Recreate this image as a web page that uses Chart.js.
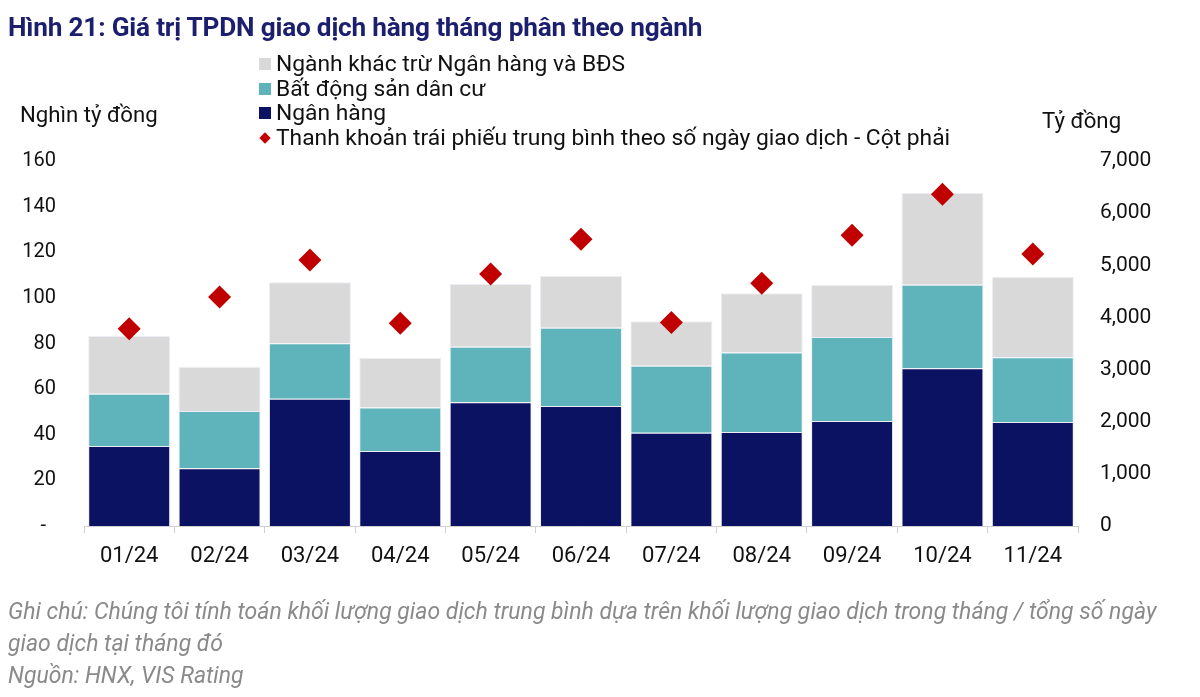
<!DOCTYPE html>
<html>
<head>
<meta charset="utf-8">
<script src="https://cdn.jsdelivr.net/npm/chart.js@4/dist/chart.umd.min.js"></script>
<style>
  html, body { margin: 0; padding: 0; background: #fff; }
  body { width: 1200px; height: 697px; position: relative; overflow: hidden; font-family: Roboto, "Noto Sans", sans-serif; }
  #title { position: absolute; left: 8px; top: 12px; font-size: 26.2px; font-weight: bold; color: #1b1f6e; white-space: nowrap; letter-spacing: -0.2px; }
  #legend { position: absolute; left: 259px; top: 52px; font-size: 22.8px; color: #111; line-height: 24.5px; }
  .leg-row { display: flex; align-items: center; white-space: nowrap; }
  .leg-box { width: 12px; height: 12px; margin-right: 5px; flex: none; }
  .leg-dia { width: 8px; height: 8px; margin: 0 7px 0 2px; transform: rotate(45deg); flex: none; }
  .axis-title { position: absolute; font-size: 22.2px; color: #111; white-space: nowrap; }
  #note { position: absolute; left: 8px; top: 596px; font-size: 23px; font-style: italic; color: #8a8a8a; line-height: 32px; width: 1195px; white-space: nowrap; }
  #wrap { position: absolute; left: 0; top: 0; width: 1200px; height: 697px; }
</style>
</head>
<body>
<div id="wrap"><canvas id="chart" width="1200" height="697"></canvas></div>
<div id="title">Hình 21: Giá trị TPDN giao dịch hàng tháng phân theo ngành</div>
<div id="legend"></div>
<div class="axis-title" style="left:20px; top:101px;">Nghìn tỷ đồng</div>
<div class="axis-title" style="left:1042px; top:107px;">Tỷ đồng</div>
<div id="note">Ghi chú: Chúng tôi tính toán khối lượng giao dịch trung bình dựa trên khối lượng giao dịch trong tháng / tổng số ngày<br>giao dịch tại tháng đó<br>Nguồn: HNX, VIS Rating</div>
<script>
// dữ liệu
const months = ['01/24', '02/24', '03/24', '04/24', '05/24', '06/24', '07/24', '08/24', '09/24', '10/24', '11/24'];
const nganHang = [35.1, 25.3, 55.8, 32.9, 54.2, 52.6, 40.9, 41.2, 46.0, 69.1, 45.6];
const batDongSan = [22.9, 25.1, 24.3, 19.1, 24.4, 34.3, 29.4, 34.9, 36.9, 36.7, 28.4];
const nganhKhac = [25.3, 19.4, 26.7, 21.7, 27.5, 22.8, 19.4, 25.9, 22.8, 40.2, 35.3];
const thanhKhoan = [3785, 4390, 5100, 3890, 4835, 5500, 3905, 4655, 5575, 6360, 5215];
const leftTicks = [0, 20, 40, 60, 80, 100, 120, 140, 160];
const rightTicks = [0, 1000, 2000, 3000, 4000, 5000, 6000, 7000];

const NAVY = '#0c1262';
const TEAL = '#5fb4bc';
const GRAY = '#d9d9d9';
const RED = '#c00000';

const legendItems = [
    { label: 'Ngành khác trừ Ngân hàng và BĐS', color: GRAY, type: 'box' },
    { label: 'Bất động sản dân cư', color: TEAL, type: 'box' },
    { label: 'Ngân hàng', color: NAVY, type: 'box' },
    { label: 'Thanh khoản trái phiếu trung bình theo số ngày giao dịch - Cột phải', color: RED, type: 'diamond' }
];
const legendEl = document.getElementById('legend');
legendItems.forEach(item => {
    const row = document.createElement('div');
    row.className = 'leg-row';
    const mark = document.createElement('span');
    mark.className = item.type === 'box' ? 'leg-box' : 'leg-dia';
    mark.style.background = item.color;
    const txt = document.createElement('span');
    txt.textContent = item.label;
    row.appendChild(mark);
    row.appendChild(txt);
    legendEl.appendChild(row);
});

const barBorder = 'rgba(235,235,245,0.9)';

const ctx = document.getElementById('chart');
new Chart(ctx, {
    data: {
        labels: months,
        datasets: [
            {
                type: 'line',
                label: 'Thanh khoản',
                data: thanhKhoan,
                yAxisID: 'y1',
                showLine: false,
                pointStyle: 'rectRot',
                pointRadius: 11.5,
                pointBackgroundColor: RED,
                pointBorderColor: RED,
                pointBorderWidth: 0,
                order: 0
            },
            {
                type: 'bar', label: 'Ngân hàng', data: nganHang, backgroundColor: NAVY,
                borderColor: barBorder, borderWidth: 1, stack: 's', yAxisID: 'y', order: 1
            },
            {
                type: 'bar', label: 'Bất động sản dân cư', data: batDongSan, backgroundColor: TEAL,
                borderColor: barBorder, borderWidth: 1, stack: 's', yAxisID: 'y', order: 1
            },
            {
                type: 'bar', label: 'Ngành khác trừ Ngân hàng và BĐS', data: nganhKhac, backgroundColor: GRAY,
                borderColor: barBorder, borderWidth: 1, stack: 's', yAxisID: 'y', order: 1
            }
        ]
    },
    options: {
        responsive: false,
        animation: false,
        layout: { padding: { top: 161, left: 0, right: 0, bottom: 131 } },
        datasets: { bar: { categoryPercentage: 1.0, barPercentage: 0.907 } },
        plugins: { legend: { display: false }, tooltip: { enabled: false } },
        scales: {
            x: {
                stacked: true,
                offset: true,
                grid: { display: true, drawOnChartArea: false, drawTicks: true, tickLength: 7, color: '#d0d0d0', offset: true },
                border: { display: true, color: '#d0d0d0', width: 1 },
                ticks: { font: { family: 'Roboto', size: 22 }, color: '#111', padding: 10, maxRotation: 0 },
                afterFit: s => { s.height = 40; }
            },
            y: {
                stacked: true,
                position: 'left',
                min: 0, max: 160,
                afterBuildTicks: s => { s.ticks = leftTicks.map(v => ({ value: v })); },
                grid: { display: false, drawTicks: false },
                border: { display: false },
                ticks: {
                    font: { family: 'Roboto', size: 20 }, color: '#111', padding: 28,
                    callback: v => v === 0 ? '-  ' : String(v)
                },
                afterFit: s => { s.width = 84; }
            },
            y1: {
                position: 'right',
                min: 0, max: 7000,
                afterBuildTicks: s => { s.ticks = rightTicks.map(v => ({ value: v })); },
                grid: { display: false, drawTicks: false },
                border: { display: false },
                ticks: {
                    font: { family: 'Roboto', size: 21 }, color: '#111', padding: 22,
                    callback: v => v.toLocaleString('en-US')
                },
                afterFit: s => { s.width = 1200 - 1078; }
            }
        }
    }
});
</script>
</body>
</html>
